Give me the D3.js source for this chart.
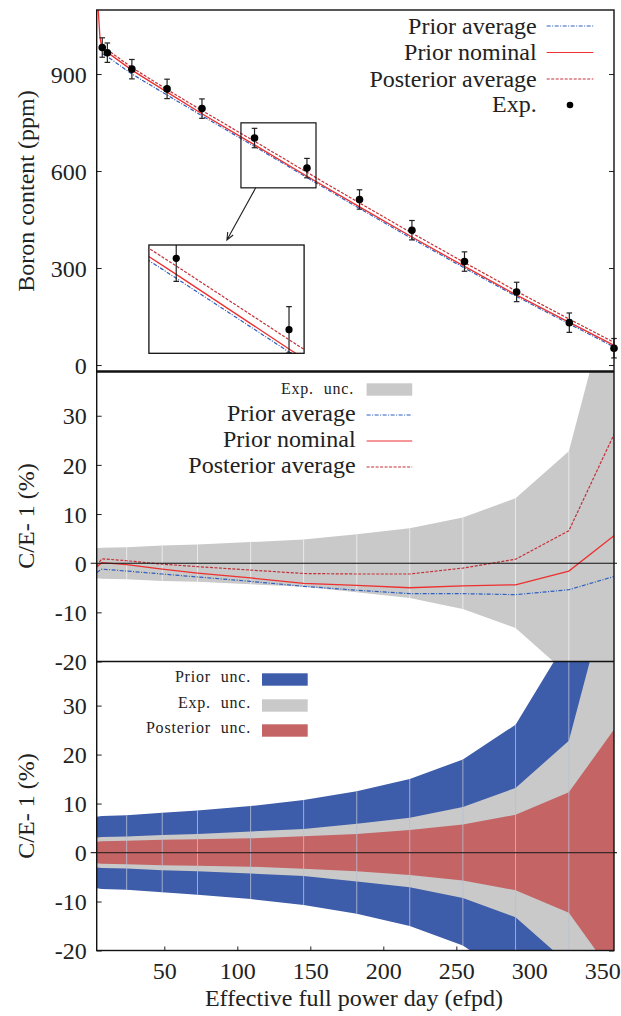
<!doctype html>
<html lang="en">
<head>
<meta charset="utf-8">
<title>Boron content and C/E</title>
<script src="https://cdnjs.cloudflare.com/ajax/libs/d3/7.8.5/d3.min.js"></script>
<style>
  body{margin:0;background:#fff;}
  .frame{fill:none;stroke:#111;}
</style>
</head>
<body>
<svg width="621" height="1016"></svg>
<script>
// measurement days (efpd)
const days=[7.5,11.0,27.8,51.9,75.8,111.8,147.7,183.7,219.6,255.6,291.3,327.4,358.0];

// top panel: boron content (ppm)
const expBoron=[982,966,915,854,793,702,609,512,417,320,226,131,52];
const expErr=[30,30,30,30,30,30,30,30,30,30,30,30,30];
const priorAvgBoron=[963,954,900,835,771,676,580,484,391,300,212,127,56];
const priorNomBoron=[974,967,912,844,777,681,584,489,396,305,216,132,61];
const postAvgBoron=[977,975,920,852,787,692,596,501,408,317,228,142,70];
// prior nominal starts from the beginning of cycle
const nomStartDays=[3.7,5.9];
const nomStartBoron=[1176,1015];

// middle panel: C/E-1 (%)
const priorAvgCE=[-1.9,-1.2,-1.6,-2.2,-2.8,-3.7,-4.7,-5.5,-6.2,-6.2,-6.4,-5.4,-2.7];
const priorNomCE=[-0.8,0.1,-0.3,-1.2,-2.0,-3.0,-4.1,-4.5,-5.0,-4.6,-4.4,-1.6,5.6];
const postAvgCE=[-0.5,0.9,0.5,-0.2,-0.7,-1.4,-2.1,-2.2,-2.2,-1.0,0.8,6.6,26.2];

// uncertainties (%), bands are +/-
const expUnc=[3.05,3.15,3.25,3.6,3.8,4.3,4.8,5.9,7.1,9.3,13.2,22.8,57.7];
const priorUnc=[7.3,7.45,7.6,8.1,8.6,9.5,10.7,12.5,15.0,19.0,26.1,44,110];
const postUnc=[2.2,2.3,2.4,2.6,2.7,2.9,3.3,3.8,4.6,5.7,7.7,12.3,25.1];

const boronTicks=[0,300,600,900];
const ceTicks=[-20,-10,0,10,20,30];
const dayTicks=[50,100,150,200,250,300,350];

const colors={
  priorAvg:"#2f5fc0",
  priorNom:"#ee3030",
  postAvg:"#c43038",
  expUnc:"#c8c9c8",
  priorUnc:"#3d5ca9",
  postUnc:"#c46465"
};
const FONT="Liberation Serif";

const L=96.7,R=614;
const top1=10,bot1=371.5,bot2=661.5,bot3=950.5;

const svg=d3.select("svg");

function label(x,y,t,size,anchor){
  return svg.append("text").attr("x",x).attr("y",y)
    .attr("font-family",FONT).attr("font-size",size).attr("fill","#222")
    .attr("text-anchor",anchor||"end").text(t);
}

const xTop=d3.scaleLinear().domain([3.7,358]).range([L,R]);
const xLow=d3.scaleLinear().domain([days[0],days[days.length-1]]).range([L,R]);
const yTop=d3.scaleLinear().domain([-20,1098]).range([bot1,top1]);
const yMid=d3.scaleLinear().domain([-20,39]).range([bot2,bot1]);
const yBot=d3.scaleLinear().domain([-20,39]).range([bot3,bot2]);

const defs=svg.append("defs");
function clip(id,x0,y0,x1,y1){
  defs.append("clipPath").attr("id",id)
    .append("rect").attr("x",x0).attr("y",y0).attr("width",x1-x0).attr("height",y1-y0);
  return "url(#"+id+")";
}
const clipTop=clip("c-top",L,top1,R,bot1);
const clipMid=clip("c-mid",L,bot1,R,bot2);
const clipBot=clip("c-bot",L,bot2,R,bot3);

const pts=arr=>days.map((d,i)=>[d,arr[i]]);
const plain=d=>String(d);

// ---------- y axes with inner ticks ----------
function yAxes(scale,ticks){
  const gl=svg.append("g").attr("transform",`translate(${L},0)`).style("color","#222")
    .call(d3.axisLeft(scale).tickValues(ticks).tickSize(-5).tickPadding(10).tickFormat(plain));
  gl.attr("font-family",FONT).attr("font-size",24);
  gl.select(".domain").remove();
  gl.selectAll(".tick text").attr("dy","0.34em").attr("font-family",FONT);
  const gr=svg.append("g").attr("transform",`translate(${R},0)`).style("color","#222")
    .call(d3.axisRight(scale).tickValues(ticks).tickSize(-5).tickFormat(""));
  gr.select(".domain").remove();
}
yAxes(yTop,boronTicks);
yAxes(yMid,ceTicks);
yAxes(yBot,ceTicks);

const gx=svg.append("g").attr("transform",`translate(0,${bot3})`).style("color","#222")
  .call(d3.axisBottom(xTop).tickValues(dayTicks).tickSize(-4).tickPadding(11).tickFormat(plain));
gx.attr("font-family",FONT).attr("font-size",24);
gx.selectAll(".tick text").attr("font-family",FONT);
gx.select(".domain").remove();

// ---------- top panel ----------
const gTop=svg.append("g").attr("clip-path",clipTop);
const lineTop=d3.line().x(d=>xTop(d[0])).y(d=>yTop(d[1]));
const nomPts=nomStartDays.map((d,i)=>[d,nomStartBoron[i]]).concat(pts(priorNomBoron));

function topLines(g,line){
  g.append("path").datum(pts(priorAvgBoron)).attr("d",line)
    .attr("fill","none").attr("stroke",colors.priorAvg).attr("stroke-width",1.2)
    .attr("stroke-dasharray","4,1.5,1,1.5");
  g.append("path").datum(nomPts).attr("d",line)
    .attr("fill","none").attr("stroke",colors.priorNom).attr("stroke-width",1.3);
  g.append("path").datum(pts(postAvgBoron)).attr("d",line)
    .attr("fill","none").attr("stroke",colors.postAvg).attr("stroke-width",1.2)
    .attr("stroke-dasharray","3,1.5");
}
topLines(gTop,lineTop);

function expMarks(g,xs,ys,r){
  const e=g.selectAll(".exp").data(days.map((d,i)=>({d:d,v:expBoron[i],err:expErr[i]})))
    .enter().append("g").attr("class","exp");
  e.append("line").attr("x1",d=>xs(d.d)).attr("x2",d=>xs(d.d))
    .attr("y1",d=>ys(d.v-d.err)).attr("y2",d=>ys(d.v+d.err))
    .attr("stroke","#222").attr("stroke-width",1.2);
  [-1,1].forEach(s=>{
    e.append("line").attr("x1",d=>xs(d.d)-2.8).attr("x2",d=>xs(d.d)+2.8)
      .attr("y1",d=>ys(d.v+s*d.err)).attr("y2",d=>ys(d.v+s*d.err))
      .attr("stroke","#222").attr("stroke-width",1.2);
  });
  e.append("circle").attr("cx",d=>xs(d.d)).attr("cy",d=>ys(d.v)).attr("r",r).attr("fill","#000");
}
expMarks(svg.append("g"),xTop,yTop,3.8);

// zoom box and inset
const zoomDays=[102.5,153.9],zoomBoron=[548,749];
svg.append("rect").attr("class","frame").attr("stroke-width",1.2)
  .attr("x",xTop(zoomDays[0])).attr("y",yTop(zoomBoron[1]))
  .attr("width",xTop(zoomDays[1])-xTop(zoomDays[0]))
  .attr("height",yTop(zoomBoron[0])-yTop(zoomBoron[1]));

const inset={x0:148.9,y0:245,x1:304.1,y1:353.3};
const xIn=d3.scaleLinear().domain([103.1,152.5]).range([inset.x0,inset.x1]);
const yIn=d3.scaleLinear().domain([578.3,719.3]).range([inset.y1,inset.y0]);
svg.append("rect").attr("x",inset.x0).attr("y",inset.y0)
  .attr("width",inset.x1-inset.x0).attr("height",inset.y1-inset.y0).attr("fill","#fff");
const clipIn=clip("c-in",inset.x0,inset.y0,inset.x1,inset.y1);
const gIn=svg.append("g").attr("clip-path",clipIn);
topLines(gIn,d3.line().x(d=>xIn(d[0])).y(d=>yIn(d[1])));
expMarks(gIn,xIn,yIn,3.6);
svg.append("rect").attr("class","frame").attr("stroke-width",1.3)
  .attr("x",inset.x0).attr("y",inset.y0)
  .attr("width",inset.x1-inset.x0).attr("height",inset.y1-inset.y0);

// arrow from box to inset
const a0=[xTop(112.6),yTop(zoomBoron[0])],a1=[inset.x0+78,inset.y0-5];
const ang=Math.atan2(a1[1]-a0[1],a1[0]-a0[0]);
svg.append("path")
  .attr("d",`M${a0[0]},${a0[1]}L${a1[0]},${a1[1]}`+
    `M${a1[0]-8*Math.cos(ang-0.4)},${a1[1]-8*Math.sin(ang-0.4)}L${a1[0]},${a1[1]}`+
    `L${a1[0]-8*Math.cos(ang+0.4)},${a1[1]-8*Math.sin(ang+0.4)}`)
  .attr("fill","none").attr("stroke","#222").attr("stroke-width",1.1);

// top legend
const legTop=[
  {t:"Prior average",c:colors.priorAvg,dash:"4,1.5,1,1.5",y:26},
  {t:"Prior nominal",c:colors.priorNom,dash:null,y:52.5},
  {t:"Posterior average",c:colors.postAvg,dash:"3,1.5",y:79},
];
legTop.forEach(d=>{
  label(536.7,d.y+7.5,d.t,24);
  svg.append("line").attr("x1",546.7).attr("x2",593.3).attr("y1",d.y).attr("y2",d.y)
    .attr("stroke",d.c).attr("stroke-width",1.2).attr("stroke-dasharray",d.dash);
});
label(536.7,112,"Exp.",24);
svg.append("circle").attr("cx",570).attr("cy",105).attr("r",3.3).attr("fill","#000");

// ---------- middle panel ----------
const gMid=svg.append("g").attr("clip-path",clipMid);
gMid.append("path").datum(expUnc)
  .attr("d",d3.area().x((d,i)=>xLow(days[i])).y0(d=>yMid(-d)).y1(d=>yMid(d)))
  .attr("fill",colors.expUnc);
gMid.selectAll(".seam").data(days.slice(2,12)).enter().append("line")
  .attr("x1",d=>xLow(d)).attr("x2",d=>xLow(d))
  .attr("y1",(d,i)=>yMid(-expUnc[i+2])).attr("y2",(d,i)=>yMid(expUnc[i+2]))
  .attr("stroke","#fff").attr("stroke-opacity",0.6).attr("stroke-width",1);
svg.append("line").attr("x1",L-6).attr("x2",R+3).attr("y1",yMid(0)).attr("y2",yMid(0))
  .attr("stroke","#111").attr("stroke-width",1.1);
const lineMid=d3.line().x(d=>xLow(d[0])).y(d=>yMid(d[1]));
gMid.append("path").datum(pts(priorAvgCE)).attr("d",lineMid)
  .attr("fill","none").attr("stroke",colors.priorAvg).attr("stroke-width",1.2)
  .attr("stroke-dasharray","4,1.5,1,1.5");
gMid.append("path").datum(pts(priorNomCE)).attr("d",lineMid)
  .attr("fill","none").attr("stroke",colors.priorNom).attr("stroke-width",1.3);
gMid.append("path").datum(pts(postAvgCE)).attr("d",lineMid)
  .attr("fill","none").attr("stroke",colors.postAvg).attr("stroke-width",1.2)
  .attr("stroke-dasharray","3,1.5");

// middle legend
label(354,393.5,"Exp. unc.",16).attr("letter-spacing",0.8).attr("word-spacing",5);
svg.append("rect").attr("x",366.6).attr("y",383.3).attr("width",45.6).attr("height",12.4)
  .attr("fill",colors.expUnc);
const legMid=[
  {t:"Prior average",c:colors.priorAvg,dash:"4,1.5,1,1.5",y:415},
  {t:"Prior nominal",c:colors.priorNom,dash:null,y:441},
  {t:"Posterior average",c:colors.postAvg,dash:"3,1.5",y:467},
];
legMid.forEach(d=>{
  label(355.6,d.y+5.5,d.t,24);
  svg.append("line").attr("x1",366.6).attr("x2",412.2).attr("y1",d.y).attr("y2",d.y)
    .attr("stroke",d.c).attr("stroke-width",1.2).attr("stroke-dasharray",d.dash);
});

// ---------- bottom panel ----------
const gBot=svg.append("g").attr("clip-path",clipBot);
const band=d3.area().x((d,i)=>xLow(days[i])).y0(d=>yBot(-d)).y1(d=>yBot(d));
gBot.append("path").datum(priorUnc).attr("d",band).attr("fill",colors.priorUnc);
gBot.append("path").datum(expUnc).attr("d",band).attr("fill",colors.expUnc);
gBot.append("path").datum(postUnc).attr("d",band).attr("fill",colors.postUnc);
gBot.selectAll(".seam").data(days.slice(2,12)).enter().append("line")
  .attr("x1",d=>xLow(d)).attr("x2",d=>xLow(d))
  .attr("y1",(d,i)=>yBot(-priorUnc[i+2])).attr("y2",(d,i)=>yBot(priorUnc[i+2]))
  .attr("stroke","#b9c0d4").attr("stroke-opacity",0.8).attr("stroke-width",1);
svg.append("line").attr("x1",L-6).attr("x2",R+3).attr("y1",yBot(0)).attr("y2",yBot(0))
  .attr("stroke","#3a2a2a").attr("stroke-width",1.3);

const legBot=[
  {t:"Prior unc.",c:colors.priorUnc,y:673.3},
  {t:"Exp. unc.",c:colors.expUnc,y:699.3},
  {t:"Posterior unc.",c:colors.postUnc,y:724.3},
];
legBot.forEach(d=>{
  label(251,d.y+8.8,d.t,16).attr("letter-spacing",0.8).attr("word-spacing",5);
  svg.append("rect").attr("x",262).attr("y",d.y).attr("width",45.7).attr("height",12.4)
    .attr("fill",d.c);
});

// ---------- frames ----------
svg.append("rect").attr("class","frame").attr("stroke-width",1.4)
  .attr("x",L).attr("y",top1).attr("width",R-L).attr("height",bot3-top1);
svg.append("line").attr("x1",L).attr("x2",R).attr("y1",bot1).attr("y2",bot1)
  .attr("stroke","#111").attr("stroke-width",2.6);
svg.append("line").attr("x1",L).attr("x2",R).attr("y1",bot2).attr("y2",bot2)
  .attr("stroke","#111").attr("stroke-width",1.6);

// ---------- axis titles ----------
label(0,0,"Boron content (ppm)",24,"middle").attr("transform","translate(34,191) rotate(-90)");
label(0,0,"C/E- 1 (%)",24,"middle").attr("transform","translate(34,516) rotate(-90)");
label(0,0,"C/E- 1 (%)",24,"middle").attr("transform","translate(34,806) rotate(-90)");
label(354,1006,"Effective full power day (efpd)",24,"middle");
</script>
</body>
</html>
